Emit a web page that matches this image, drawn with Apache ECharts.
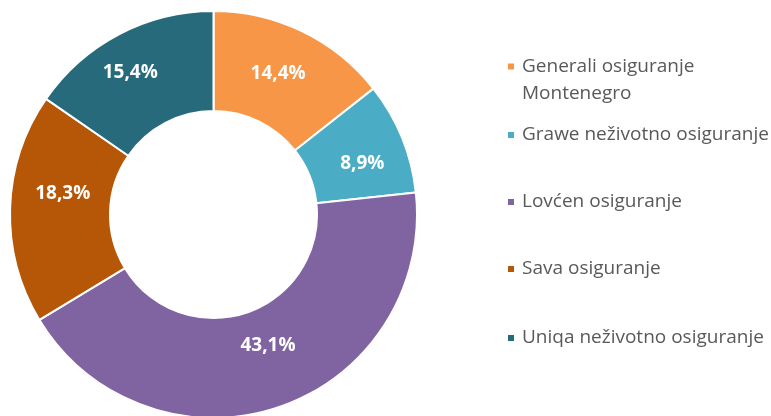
<!DOCTYPE html>
<html>
<head>
<meta charset="utf-8">
<script src="https://cdn.jsdelivr.net/npm/echarts@6/dist/echarts.min.js"></script>
<style>
html,body{margin:0;padding:0;background:#fff;}
#c{width:771px;height:416px;}
</style>
</head>
<body>
<div id="c"></div>
<script>
const categories = ['Generali osiguranje Montenegro', 'Grawe neživotno osiguranje', 'Lovćen osiguranje', 'Sava osiguranje', 'Uniqa neživotno osiguranje'];
const values = [14.4, 8.9, 43.1, 18.3, 15.4];
const colors = ['#F79646', '#4BACC6', '#8064A2', '#B65708', '#276A7C'];

// layout-only tweaks (legend placement and label nudges, not data)
const legendTops = [26, 124, 191, 258, 327];
const labelNudge = [[-3.7, 0.3], [3.9, 8.5], [4.3, -17.1], [5.7, -16.6], [-10.5, -3.3]];

const chart = echarts.init(document.getElementById('c'), null, {renderer: 'canvas'});
const FONT = '"Open Sans", sans-serif';

const legends = categories.map((name, i) => ({
  data: [name],
  orient: 'vertical',
  left: 506,
  top: legendTops[i],
  padding: 0,
  itemWidth: 8,
  itemHeight: 8,
  itemGap: 0,
  icon: 'rect',
  selectedMode: true,
  formatter: i === 0 ? ' \nGenerali osiguranje\nMontenegro' : '{name}',
  textStyle: {
    color: '#595959',
    fontFamily: FONT,
    fontSize: 19,
    lineHeight: i === 0 ? 27 : 22,
    padding: [0, 0, 0, 2]
  }
}));

chart.setOption({
  backgroundColor: '#ffffff',
  color: colors,
  legend: legends,
  series: [{
    type: 'pie',
    center: [213.5, 214.5],
    radius: [103.5, 203.5],
    startAngle: 90,
    clockwise: true,
    avoidLabelOverlap: false,
    data: categories.map((n, i) => ({name: n, value: values[i]})),
    itemStyle: {borderColor: '#ffffff', borderWidth: 2},
    label: {
      show: true,
      position: 'inside',
      color: '#ffffff',
      fontFamily: FONT,
      fontWeight: 'bold',
      fontSize: 19,
      formatter: p => p.value.toFixed(1).replace('.', ',') + '%'
    },
    labelLayout: p => ({dx: labelNudge[p.dataIndex][0], dy: labelNudge[p.dataIndex][1]}),
    labelLine: {show: false},
    emphasis: {scale: false}
  }]
});
</script>
</body>
</html>
